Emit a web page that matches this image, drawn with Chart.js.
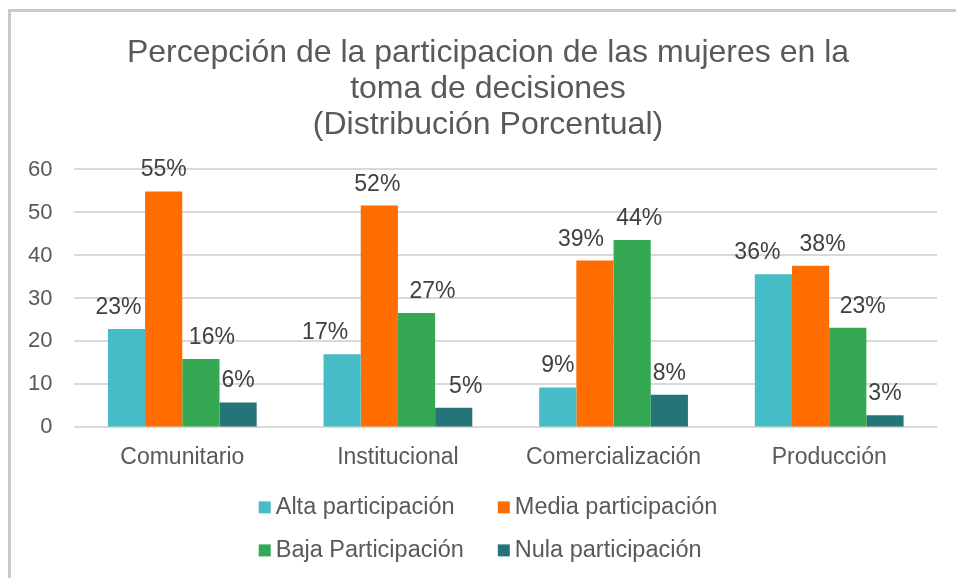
<!DOCTYPE html>
<html>
<head>
<meta charset="utf-8">
<script src="https://cdn.jsdelivr.net/npm/chart.js@4"></script>
<style>
  html, body { margin: 0; padding: 0; background: #fff; width: 956px; height: 578px; overflow: hidden; }
  #wrap { position: absolute; left: 0; top: 0; width: 956px; height: 578px; overflow: hidden; }
</style>
</head>
<body>
<div id="wrap"><canvas id="chart" width="960" height="578"></canvas></div>
<script>
var categories = ['Comunitario', 'Institucional', 'Comercialización', 'Producción'];
var alta  = [22.9, 17.0, 9.3, 35.6];
var media = [54.9, 51.6, 38.8, 37.6];
var baja  = [15.9, 26.6, 43.6, 23.2];
var nula  = [5.8, 4.6, 7.6, 2.8];
var yTicks = [0, 10, 20, 30, 40, 50, 60];
var seriesNames = ['Alta participación', 'Media participación', 'Baja Participación', 'Nula participación'];
var seriesColors = ['#46BDC6', '#FF6D01', '#34A853', '#24747A'];
// small sideways nudges of the % labels, as in the original, so they don't collide
var labelNudge = [[-8, -17, 0, -16], [0, -2, -14, 12], [11, 16, 7, 15], [0, 12, 0, 0]];

var FONT = '"Liberation Sans", Arial, sans-serif';

// grey frame (top and left edge only, the rest is cut off in the original)
var frame = {
    id: 'frame',
    beforeDraw: function(chart) {
        var ctx = chart.ctx;
        ctx.save();
        ctx.strokeStyle = '#cacaca';
        ctx.lineWidth = 3;
        ctx.beginPath();
        ctx.moveTo(9.5, chart.height);
        ctx.lineTo(9.5, 10.5);
        ctx.lineTo(chart.width, 10.5);
        ctx.stroke();
        ctx.restore();
    },
    // title in the original sits a bit right of the plot centre
    afterLayout: function(chart) {
        chart.titleBlock.left += 33;
    }
};

var barLabels = {
    id: 'barLabels',
    afterDatasetsDraw: function(chart) {
        var ctx = chart.ctx;
        ctx.save();
        ctx.font = '23px ' + FONT;
        ctx.fillStyle = '#404040';
        ctx.textAlign = 'center';
        ctx.textBaseline = 'alphabetic';
        chart.data.datasets.forEach(function(ds, i) {
            chart.getDatasetMeta(i).data.forEach(function(bar, j) {
                ctx.fillText(Math.round(ds.data[j]) + '%', bar.x + labelNudge[i][j], bar.y - 15);
            });
        });
        ctx.restore();
    }
};

// two-by-two legend under the axis
var gridLegend = {
    id: 'gridLegend',
    afterDraw: function(chart) {
        var ctx = chart.ctx;
        var sets = chart.data.datasets;
        var box = 12, gap = 5, colGap = 34, rowGap = 43;
        ctx.save();
        ctx.font = '23.5px ' + FONT;
        var w0 = Math.max(ctx.measureText(sets[0].label).width, ctx.measureText(sets[2].label).width);
        var w1 = Math.max(ctx.measureText(sets[1].label).width, ctx.measureText(sets[3].label).width);
        var total = box + gap + w0 + colGap + box + gap + w1;
        var cx = (chart.titleBlock.left + chart.titleBlock.right) / 2;
        var x0 = cx - total / 2;
        var x1 = x0 + box + gap + w0 + colGap;
        var y0 = chart.chartArea.bottom + 80;
        ctx.textBaseline = 'middle';
        ctx.textAlign = 'left';
        sets.forEach(function(ds, i) {
            var x = i % 2 ? x1 : x0;
            var y = y0 + Math.floor(i / 2) * rowGap;
            ctx.fillStyle = ds.backgroundColor;
            ctx.fillRect(x, y - box / 2, box, box);
            ctx.fillStyle = '#595959';
            ctx.fillText(ds.label, x + box + gap, y);
        });
        ctx.restore();
    }
};

var seriesData = [alta, media, baja, nula];
var datasets = seriesNames.map(function(name, i) {
    return {
        label: name,
        data: seriesData[i],
        backgroundColor: seriesColors[i],
        borderWidth: 0,
        categoryPercentage: 0.69,
        barPercentage: 1.0
    };
});

var ctx = document.getElementById('chart').getContext('2d');
var chart = new Chart(ctx, {
    type: 'bar',
    data: { labels: categories, datasets: datasets },
    plugins: [frame, barLabels, gridLegend],
    options: {
        responsive: false,
        animation: false,
        layout: { padding: { left: 6, right: 23, top: 0, bottom: 91 } },
        plugins: {
            legend: { display: false },
            tooltip: { enabled: false },
            title: {
                display: true,
                text: ['Percepción de la participacion de las mujeres en la', 'toma de decisiones', '(Distribución Porcentual)'],
                color: '#595959',
                font: { family: FONT, size: 32, weight: 'normal', lineHeight: 1.13 },
                padding: { top: 35, bottom: 26 }
            }
        },
        scales: {
            x: {
                grid: { display: false, drawTicks: false },
                border: { display: false },
                ticks: { color: '#595959', font: { family: FONT, size: 23 }, padding: 16 }
            },
            y: {
                min: 0,
                max: 60,
                afterBuildTicks: function(axis) {
                    axis.ticks = yTicks.map(function(v) { return { value: v }; });
                },
                grid: { color: '#D9D9D9', lineWidth: 2, drawTicks: false },
                border: { display: false },
                ticks: { color: '#595959', font: { family: FONT, size: 22 }, padding: 22 }
            }
        }
    }
});
</script>
</body>
</html>
